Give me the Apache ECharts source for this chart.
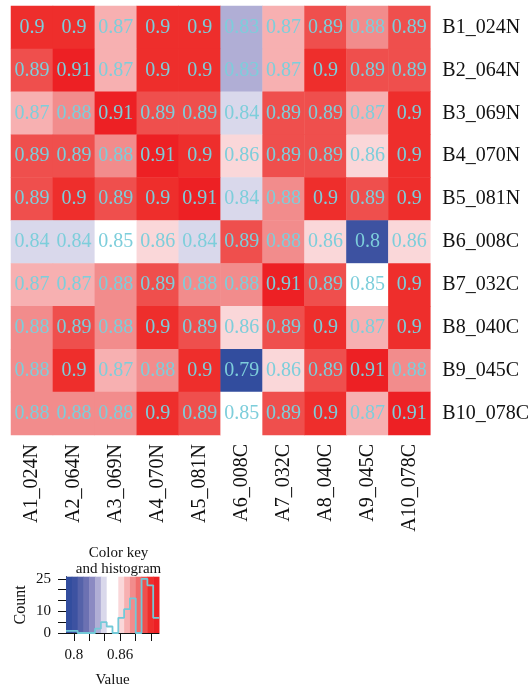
<!DOCTYPE html>
<html>
<head>
<meta charset="utf-8">
<style>
  html, body { margin: 0; padding: 0; background: #fff; }
  #chart { width: 532px; height: 689px; }
</style>
<script src="https://cdn.jsdelivr.net/npm/echarts@6/dist/echarts.min.js"></script>
</head>
<body>
<div id="chart"></div>
<script>
// Column and row sample names
const colNames = ['A1_024N', 'A2_064N', 'A3_069N', 'A4_070N', 'A5_081N',
                  'A6_008C', 'A7_032C', 'A8_040C', 'A9_045C', 'A10_078C'];
const rowNames = ['B1_024N', 'B2_064N', 'B3_069N', 'B4_070N', 'B5_081N',
                  'B6_008C', 'B7_032C', 'B8_040C', 'B9_045C', 'B10_078C'];

// Similarity values, one array per row (columns A1..A10)
const rowB1  = [0.90, 0.90, 0.87, 0.90, 0.90, 0.83, 0.87, 0.89, 0.88, 0.89];
const rowB2  = [0.89, 0.91, 0.87, 0.90, 0.90, 0.83, 0.87, 0.90, 0.89, 0.89];
const rowB3  = [0.87, 0.88, 0.91, 0.89, 0.89, 0.84, 0.89, 0.89, 0.87, 0.90];
const rowB4  = [0.89, 0.89, 0.88, 0.91, 0.90, 0.86, 0.89, 0.89, 0.86, 0.90];
const rowB5  = [0.89, 0.90, 0.89, 0.90, 0.91, 0.84, 0.88, 0.90, 0.89, 0.90];
const rowB6  = [0.84, 0.84, 0.85, 0.86, 0.84, 0.89, 0.88, 0.86, 0.80, 0.86];
const rowB7  = [0.87, 0.87, 0.88, 0.89, 0.88, 0.88, 0.91, 0.89, 0.85, 0.90];
const rowB8  = [0.88, 0.89, 0.88, 0.90, 0.89, 0.86, 0.89, 0.90, 0.87, 0.90];
const rowB9  = [0.88, 0.90, 0.87, 0.88, 0.90, 0.79, 0.86, 0.89, 0.91, 0.88];
const rowB10 = [0.88, 0.88, 0.88, 0.90, 0.89, 0.85, 0.89, 0.90, 0.87, 0.91];
const matrix = [rowB1, rowB2, rowB3, rowB4, rowB5, rowB6, rowB7, rowB8, rowB9, rowB10];

// Colour key: bin edges and the blue-white-red palette (one colour per bin)
const keyBreaks = [0.7899, 0.79742, 0.80494, 0.81246, 0.81998, 0.8275, 0.83502, 0.84254,
                   0.85006, 0.85758, 0.8651, 0.87262, 0.88014, 0.88766, 0.89518, 0.9027, 0.91022];
const keyColors = ['#324d9e', '#3d52a1', '#5562a9', '#6c71b2', '#8b8ac2', '#b0aed5', '#d9d8eb', '#ffffff',
                   '#ffffff', '#fad7d9', '#f7b0b1', '#f28c8c', '#f06c6b', '#ef4f4d', '#ee2e2c', '#ed2024'];
const keyTickValues = [0.80, 0.82, 0.84, 0.86, 0.88, 0.90];
const keyTickLabels = [0.80, 0.86];
const countTickValues = [0, 5, 10, 15, 20, 25];
const countTickLabels = [0, 10, 25];

const SERIF = "'Liberation Serif', 'DejaVu Serif', serif";
const NOTE = '#7dcedb';

// Heatmap cells: [column, row, value]
const cells = [];
matrix.forEach((row, r) => row.forEach((v, c) => cells.push([c, r, v])));

// Histogram counts per colour-key bin
const nBins = keyColors.length;
const counts = new Array(nBins).fill(0);
cells.forEach(([, , v]) => {
  for (let k = 0; k < nBins; k++) {
    if (v >= keyBreaks[k] && v < keyBreaks[k + 1]) { counts[k]++; break; }
  }
});
const histLine = keyBreaks.map((b, k) => [b, counts[Math.min(k, nBins - 1)]]);
const keyRects = keyColors.map((col, k) => [keyBreaks[k], keyBreaks[k + 1], k]);
const COUNT_MAX = 26;

const pieces = keyColors.map((col, k) => ({ gte: keyBreaks[k], lt: keyBreaks[k + 1], color: col }));

const chart = echarts.init(document.getElementById('chart'), null, { renderer: 'canvas' });
chart.setOption({
  backgroundColor: '#ffffff',
  animation: false,
  textStyle: { fontFamily: SERIF },
  grid: [
    { left: 11, top: 6, width: 428.5, height: 429 },
    { left: 66, top: 576.7, width: 93, height: 60 }
  ],
  xAxis: [
    {
      type: 'category', gridIndex: 0, data: colNames, position: 'bottom',
      axisLine: { show: false }, axisTick: { show: false }, splitLine: { show: false },
      axisLabel: { rotate: 90, fontSize: 20, fontFamily: SERIF, color: '#111', margin: 9 }
    },
    {
      type: 'value', gridIndex: 1, min: keyBreaks[0], max: keyBreaks[keyBreaks.length - 1],
      splitLine: { show: false },
      axisLine: { show: true, onZero: false, lineStyle: { color: '#111', width: 1 } },
      axisTick: { show: true, length: 8, customValues: keyTickValues, lineStyle: { color: '#111' } },
      axisLabel: { customValues: keyTickLabels, fontSize: 15, fontFamily: SERIF, color: '#111', margin: 15,
                   formatter: v => String(+v.toFixed(2)) },
      name: 'Value', nameLocation: 'middle', nameGap: 40,
      nameTextStyle: { fontSize: 15, fontFamily: SERIF, color: '#111' }
    }
  ],
  yAxis: [
    {
      type: 'category', gridIndex: 0, data: rowNames, inverse: true, position: 'right',
      axisLine: { show: false }, axisTick: { show: false }, splitLine: { show: false },
      axisLabel: { fontSize: 20, fontFamily: SERIF, color: '#111', margin: 12 }
    },
    {
      type: 'value', gridIndex: 1, min: 0, max: COUNT_MAX,
      splitLine: { show: false },
      axisLine: { show: true, lineStyle: { color: '#111', width: 1 } },
      axisTick: { show: true, length: 8, customValues: countTickValues, lineStyle: { color: '#111' } },
      axisLabel: { customValues: countTickLabels, fontSize: 15, fontFamily: SERIF, color: '#111', margin: 15 },
      name: 'Count', nameLocation: 'middle', nameGap: 37, nameRotate: 90,
      nameTextStyle: { fontSize: 16, fontFamily: SERIF, color: '#111' }
    }
  ],
  visualMap: {
    type: 'piecewise', show: false, seriesIndex: 0, dimension: 2, pieces: pieces
  },
  title: {
    text: 'Color key\nand histogram',
    left: 113.5, top: 540, textAlign: 'center',
    textStyle: { fontSize: 15, fontWeight: 'normal', fontFamily: SERIF, color: '#111', lineHeight: 16 }
  },
  series: [
    {
      type: 'heatmap', xAxisIndex: 0, yAxisIndex: 0, data: cells,
      itemStyle: { borderWidth: 0 },
      label: {
        show: true, fontSize: 20, fontFamily: SERIF, color: NOTE,
        formatter: p => String(p.value[2])
      },
      emphasis: { disabled: true }
    },
    {
      type: 'custom', xAxisIndex: 1, yAxisIndex: 1, data: keyRects, silent: true,
      renderItem: (params, api) => {
        const p0 = api.coord([api.value(0), COUNT_MAX]);
        const p1 = api.coord([api.value(1), 0]);
        return {
          type: 'rect',
          shape: { x: p0[0], y: p0[1], width: p1[0] - p0[0] + 0.5, height: p1[1] - p0[1] },
          style: { fill: keyColors[api.value(2)] }
        };
      },
      z: 1
    },
    {
      type: 'line', xAxisIndex: 1, yAxisIndex: 1, data: histLine, step: 'end',
      symbol: 'none', silent: true,
      lineStyle: { color: '#72c9d8', width: 1.8 }, z: 3
    }
  ]
});
</script>
</body>
</html>
